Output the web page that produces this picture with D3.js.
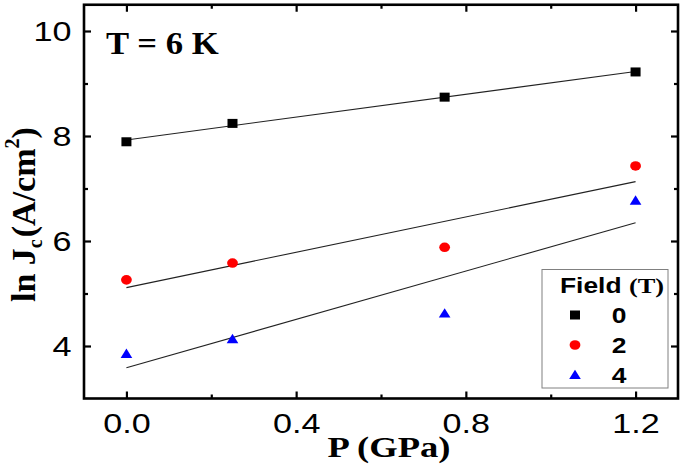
<!DOCTYPE html>
<html><head><meta charset="utf-8">
<script src="https://cdn.jsdelivr.net/npm/d3@7"></script>
<style>html,body{margin:0;padding:0;background:#fff;} svg{display:block;}</style>
</head><body>
<script>
// ---- data ----
const pressure = [0, 0.25, 0.75, 1.2];          // P (GPa)
const field0 = [7.89, 8.24, 8.74, 9.22];        // ln Jc at 0 T
const field2 = [5.26, 5.58, 5.88, 7.43];        // ln Jc at 2 T
const field4 = [3.86, 4.14, 4.63, 6.78];        // ln Jc at 4 T
const fieldLabels = ["0", "2", "4"];
const xMajor = [0, 0.4, 0.8, 1.2];
const xMinor = [0.2, 0.6, 1.0];
const yMajor = [4, 6, 8, 10];
const yMinor = [5, 7, 9];

const W = 685, H = 469;
const SX = 1.22; // horizontal text stretch seen in the reference
const svg = d3.select("body").append("svg").attr("width", W).attr("height", H);
svg.append("rect").attr("width", W).attr("height", H).attr("fill", "#fff");

const x = d3.scaleLinear().domain([-0.1, 1.3]).range([84, 678]);
const y = d3.scaleLinear().domain([3, 10.5]).range([398.5, 4.75]);
const [x0, x1] = x.range();
const [yb, yt] = y.range();

function styleAxis(g) {
  g.select(".domain").remove();
  g.selectAll(".tick line").attr("stroke", "#000").attr("stroke-width", 2.2);
}

// bottom
const gB = svg.append("g").attr("transform", `translate(0,${yb})`)
  .call(d3.axisBottom(x).tickValues(xMajor).tickSizeInner(-7).tickSizeOuter(0).tickFormat(d3.format(".1f")));
styleAxis(gB);
gB.selectAll(".tick text").attr("y", 0).attr("dy", 0)
  .attr("transform", `translate(0,34.5) scale(${SX},1)`)
  .attr("font-family", "Liberation Sans, Arial, sans-serif").attr("font-size", 28).attr("fill", "#000");
svg.append("g").attr("transform", `translate(0,${yb})`)
  .call(d3.axisBottom(x).tickValues(xMinor).tickSize(-4).tickFormat("")).call(styleAxis);
// top
svg.append("g").attr("transform", `translate(0,${yt})`)
  .call(d3.axisTop(x).tickValues(xMajor).tickSize(-7).tickFormat("")).call(styleAxis);
svg.append("g").attr("transform", `translate(0,${yt})`)
  .call(d3.axisTop(x).tickValues(xMinor).tickSize(-4).tickFormat("")).call(styleAxis);
// left
const gL = svg.append("g").attr("transform", `translate(${x0},0)`)
  .call(d3.axisLeft(y).tickValues(yMajor).tickSizeInner(-7).tickSizeOuter(0).tickFormat(d3.format("d")));
styleAxis(gL);
gL.selectAll(".tick text").attr("x", 0).attr("dy", "0.34em")
  .attr("transform", `translate(-12.5,0) scale(${SX},1)`)
  .attr("font-family", "Liberation Sans, Arial, sans-serif").attr("font-size", 28).attr("fill", "#000");
svg.append("g").attr("transform", `translate(${x0},0)`)
  .call(d3.axisLeft(y).tickValues(yMinor).tickSize(-4).tickFormat("")).call(styleAxis);
// right
svg.append("g").attr("transform", `translate(${x1},0)`)
  .call(d3.axisRight(y).tickValues(yMajor).tickSize(-7).tickFormat("")).call(styleAxis);
svg.append("g").attr("transform", `translate(${x1},0)`)
  .call(d3.axisRight(y).tickValues(yMinor).tickSize(-4).tickFormat("")).call(styleAxis);

// frame
svg.append("rect").attr("x", x0).attr("y", yt).attr("width", x1 - x0).attr("height", yb - yt)
  .attr("fill", "none").attr("stroke", "#000").attr("stroke-width", 2.6);

// ---- series ----
const series = [
  { vals: field0, color: "#000000", shape: "square" },
  { vals: field2, color: "#ff0000", shape: "circle" },
  { vals: field4, color: "#0000ff", shape: "triangle" }
];

function linfit(xs, ys) {
  const mx = d3.mean(xs), my = d3.mean(ys);
  let sxy = 0, sxx = 0;
  xs.forEach((v, i) => { sxy += (v - mx) * (ys[i] - my); sxx += (v - mx) * (v - mx); });
  const b = sxy / sxx;
  return { b, a: my - b * mx };
}

const line = d3.line().x(d => x(d[0])).y(d => y(d[1]));
const pMin = d3.min(pressure), pMax = d3.max(pressure);
series.forEach(s => {
  const f = linfit(pressure, s.vals);
  svg.append("path")
    .attr("d", line([[pMin, f.a + f.b * pMin], [pMax, f.a + f.b * pMax]]))
    .attr("stroke", "#222").attr("stroke-width", 1.1).attr("fill", "none");
});

function drawMarker(g, shape, cx, cy, color) {
  if (shape === "square") {
    g.append("rect").attr("x", cx - 5).attr("y", cy - 4.5).attr("width", 10).attr("height", 9).attr("fill", color);
  } else if (shape === "circle") {
    g.append("ellipse").attr("cx", cx).attr("cy", cy).attr("rx", 5.4).attr("ry", 4.8).attr("fill", color);
  } else {
    g.append("path").attr("d", `M${cx - 5.8},${cy + 4.6}L${cx + 5.8},${cy + 4.6}L${cx},${cy - 4.8}Z`).attr("fill", color);
  }
}

series.forEach(s => {
  const g = svg.append("g");
  s.vals.forEach((v, i) => drawMarker(g, s.shape, x(pressure[i]), y(v), s.color));
});

// ---- labels ----
svg.append("text").attr("transform", `translate(106,54) scale(1.12,1)`)
  .attr("font-family", "Liberation Serif, Times New Roman, serif").attr("font-weight", "bold")
  .attr("font-size", 31).attr("fill", "#000").text("T = 6 K");

svg.append("text").attr("transform", `translate(389,456.5) scale(${SX},1)`).attr("text-anchor", "middle")
  .attr("font-family", "Liberation Serif, Times New Roman, serif").attr("font-weight", "bold")
  .attr("font-size", 30).attr("fill", "#000").text("P (GPa)");

const yt_ = svg.append("text").attr("transform", `translate(35,302) rotate(-90)`)
  .attr("font-family", "Liberation Serif, Times New Roman, serif").attr("font-weight", "bold")
  .attr("font-size", 34).attr("fill", "#000");
yt_.append("tspan").text("ln J");
yt_.append("tspan").attr("font-size", 20).attr("dy", 7).text("c");
yt_.append("tspan").attr("dy", -7).attr("dx", 2).text("(A/cm");
yt_.append("tspan").attr("font-size", 20).attr("dy", -16).text("2");
yt_.append("tspan").attr("dy", 16).text(")");

// ---- legend ----
const lg = svg.append("g");
lg.append("rect").attr("x", 542).attr("y", 269.5).attr("width", 126).attr("height", 118.5)
  .attr("fill", "#fff").attr("stroke", "#808080").attr("stroke-width", 1);
const lt = lg.append("text").attr("transform", `translate(560,293) scale(1.2,1)`)
  .attr("font-weight", "bold").attr("font-size", 22).attr("fill", "#000");
lt.append("tspan").attr("font-family", "Liberation Sans, Arial, sans-serif").text("Field ");
lt.append("tspan").attr("font-family", "Liberation Serif, Times New Roman, serif").text("(T)");
const rowY = [315, 345, 374.5];
series.forEach((s, i) => {
  drawMarker(lg, s.shape, 575, rowY[i], s.color);
  lg.append("text").attr("transform", `translate(619,${rowY[i] + 8}) scale(1.2,1)`).attr("text-anchor", "middle")
    .attr("font-family", "Liberation Sans, Arial, sans-serif").attr("font-weight", "bold")
    .attr("font-size", 22).attr("fill", "#000").text(fieldLabels[i]);
});
</script>
</body></html>
